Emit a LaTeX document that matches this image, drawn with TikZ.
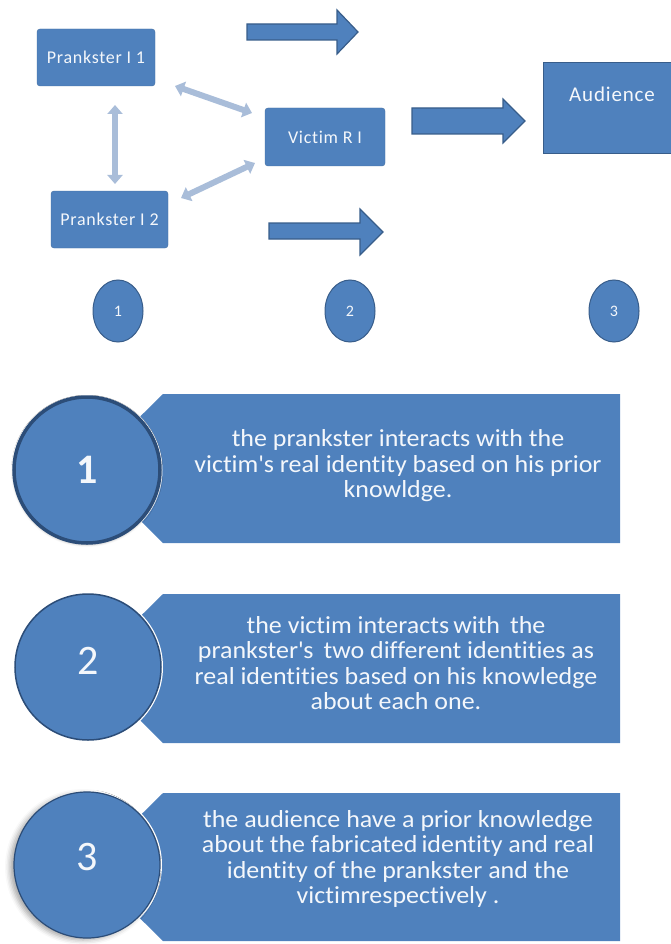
\documentclass[tikz,border=0pt]{standalone}
\usepackage{fontspec}
\setmainfont{Carlito}[Ligatures=NoCommon]
\usetikzlibrary{arrows.meta,shapes.geometric,shadows.blur}

\definecolor{ofblue}{HTML}{4F81BD}
\definecolor{ofdark}{HTML}{385D8A}
\definecolor{ofdeep}{HTML}{2C4D78}
\definecolor{oflight}{HTML}{A9BDD9}
\definecolor{txtwhite}{HTML}{F4F7FB}

\tikzset{
  idbox/.style={fill=ofblue, draw=ofblue!85!black, line width=0.4pt,
    rounded corners=3pt, text=txtwhite, inner sep=0pt,
    font=\fontsize{18}{20}\selectfont\addfontfeatures{LetterSpace=4}},
  audbox/.style={fill=ofblue, draw=ofdark, line width=1.2pt, inner sep=0pt},
  blockarrow/.style={fill=ofblue, draw=ofdark, line width=1.2pt, line join=miter},
  twoway/.style={draw=oflight, line width=6pt,
    {Triangle[length=9pt,width=15pt]}-{Triangle[length=9pt,width=15pt]}},
  stepdot/.style={ellipse, fill=ofblue, draw=ofdark, line width=1pt,
    minimum width=50pt, minimum height=62pt, inner sep=0pt,
    text=txtwhite, font=\fontsize{16}{18}\selectfont},
  panel/.style={fill=ofblue, draw=none},
  paneltext/.style={text=txtwhite, align=center,
    font=\fontsize{24.5}{25.5}\selectfont\addfontfeatures{FakeStretch=1.06}},
  bigdot/.style={circle, fill=ofblue, minimum size=146pt, inner sep=0pt,
    text=txtwhite, font=\fontsize{42}{46}\selectfont},
}

\begin{document}
\begin{tikzpicture}[x=1pt,y=-1pt]
\useasboundingbox (0,0) rectangle (671,944);

% identity boxes
\node[idbox, minimum width=118pt, minimum height=57pt] (p1) at (96,57.5) {Prankster I 1};
\node[idbox, minimum width=120pt, minimum height=58pt] (v) at (325,137) {Victim R I};
\node[idbox, minimum width=117pt, minimum height=57pt] (p2) at (109.5,219.5) {Prankster I 2};

% audience box, label near its top
\node[audbox, anchor=north west, minimum width=140pt, minimum height=91pt] (aud) at (543,62) {};
\node[text=txtwhite, font=\fontsize{21}{23}\selectfont\addfontfeatures{LetterSpace=4}] (audlbl) at (612,94) {Audience};

% two-way links between the identities
\coordinate (l1a) at (175,86);
\coordinate (l1b) at (252,113);
\coordinate (l2a) at (115,105);
\coordinate (l2b) at (115,184);
\coordinate (l3a) at (181,198);
\coordinate (l3b) at (255,163);
\draw[twoway] (l1a) -- (l1b);
\draw[twoway] (l2a) -- (l2b);
\draw[twoway] (l3a) -- (l3b);

% block arrows
\draw[blockarrow] (247,24) -- (337,24) -- (337,10) -- (358,32) -- (337,54) -- (337,40) -- (247,40) -- cycle;
\draw[blockarrow] (412,108) -- (503,108) -- (503,99) -- (525,121) -- (503,143) -- (503,134) -- (412,134) -- cycle;
\draw[blockarrow] (269,223) -- (360,223) -- (360,209) -- (383,232) -- (360,255) -- (360,239) -- (269,239) -- cycle;

% step markers
\node[stepdot] (s1) at (118,311) {1};
\node[stepdot] (s2) at (350,311) {2};
\node[stepdot] (s3) at (614,311) {3};

% step 1
\fill[panel] (163,394) -- (620,394) -- (620,543) -- (163,543) -- (88,468) -- cycle;
\node[paneltext] (t1) at (398,466) {the prankster interacts with the\\victim\textquotesingle s real identity based on his prior\\knowldge.};
\node[bigdot, draw=white, line width=5pt] at (87,470) {};
\node[bigdot, draw=ofdeep, line width=3.5pt, blur shadow={shadow xshift=0pt, shadow yshift=-1pt, shadow blur radius=3pt, shadow opacity=40}] (c1) at (87,470) {\textbf{1}};

% step 2
\fill[panel] (163,594) -- (620,594) -- (620,743) -- (163,743) -- (88,668) -- cycle;
\node[paneltext] (t2) at (396,663) {the victim interacts\,with\, the\\prankster\textquotesingle s\, two different identities as\\real identities based on his knowledge\\about each one.};
\node[bigdot, draw=white, line width=4pt] at (88,667) {};
\node[bigdot, draw=ofdeep, line width=1.5pt] (c2) at (88,667) {\raisebox{13pt}{2}};

% step 3
\fill[panel] (163,793) -- (620,793) -- (620,941) -- (163,941) -- (88,867) -- cycle;
\node[paneltext] (t3) at (398,859) {the audience have a prior knowledge\\about the fabricated\,identity and real\\identity of the prankster and the\\victimrespectively .};
\node[bigdot, draw=white, line width=4pt] at (87,865) {};
\node[bigdot, draw=ofdeep, line width=1.2pt, blur shadow={shadow xshift=-4pt, shadow yshift=-2pt, shadow blur radius=5pt, shadow opacity=35}] (c3) at (87,865) {\raisebox{16pt}{3}};
\end{tikzpicture}
\end{document}
